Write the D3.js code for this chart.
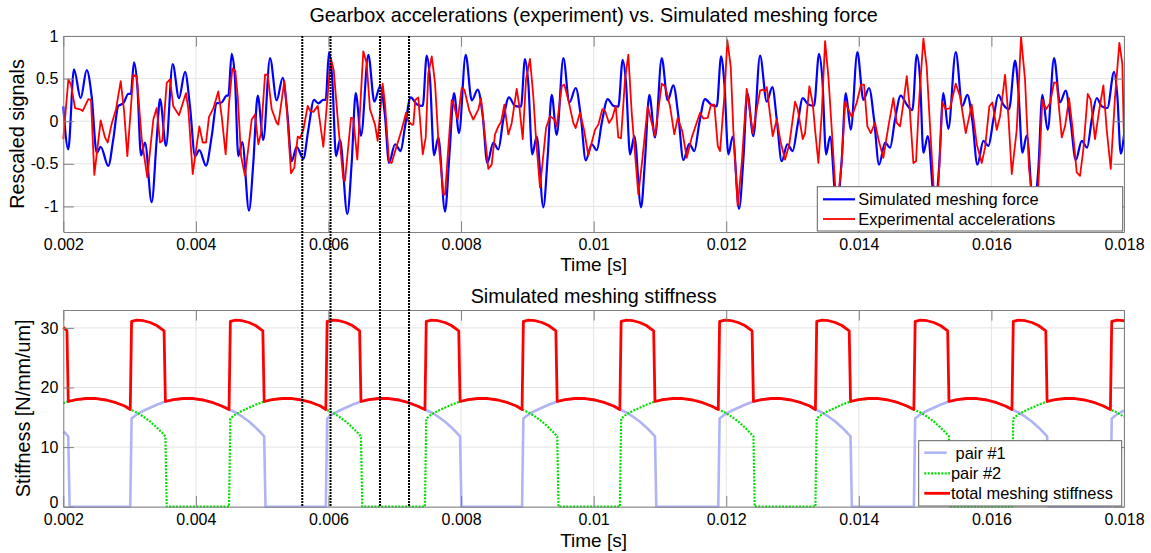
<!DOCTYPE html>
<html>
<head>
<meta charset="utf-8">
<script src="https://cdn.jsdelivr.net/npm/d3@7"></script>
<style>
  body { margin: 0; background: #fff; }
  svg { display: block; }
</style>
</head>
<body>
<svg id="fig" width="1151" height="553"></svg>
<script>
// ---------- data (time in ms) ----------
const xTickValues = [2, 4, 6, 8, 10, 12, 14, 16, 18];
const xTickLabels = ["0.002", "0.004", "0.006", "0.008", "0.01", "0.012", "0.014", "0.016", "0.018"];
const forceTickValues = [-1, -0.5, 0, 0.5, 1];
const forceTickLabels = ["-1", "-0.5", "0", "0.5", "1"];
const stiffTickValues = [0, 10, 20, 30];
const stiffTickLabels = ["0", "10", "20", "30"];

// simulated meshing force (rescaled), [time ms, value]
const simulatedForce = [
  [2.000,0.175],[2.075,-0.33],[2.161,0.61],[2.262,0.27],[2.353,0.60],[2.428,0.29],[2.504,-0.37],[2.564,-0.30],
  [2.679,-0.525],[2.754,-0.21],[2.830,0.18],[2.905,0.21],[2.981,0.32],[3.017,0.32],[3.067,0.69],[3.117,0.41],
  [3.172,-0.40],[3.232,-0.25],[3.333,-0.95],[3.409,-0.21],[3.459,0.26],[3.549,-0.29],[3.650,0.67],[3.745,0.27],
  [3.836,0.58],[3.911,0.175],[3.987,-0.41],[4.052,-0.34],[4.153,-0.52],[4.239,-0.175],[4.314,0.21],[4.389,0.22],
  [4.465,0.30],[4.489,0.30],[4.540,0.79],[4.590,0.49],[4.640,-0.41],[4.700,-0.245],[4.801,-1.05],[4.866,-0.49],
  [4.933,0.30],[5.017,-0.22],[5.118,0.74],[5.219,0.245],[5.310,0.51],[5.379,0.10],[5.445,-0.47],[5.521,-0.30],
  [5.621,-0.44],[5.696,-0.10],[5.782,0.25],[5.847,0.21],[5.922,0.25],[5.958,0.25],[6.008,0.81],[6.058,0.49],
  [6.114,-0.41],[6.174,-0.22],[6.284,-1.09],[6.350,-0.49],[6.411,0.33],[6.491,-0.17],[6.601,0.78],[6.692,0.23],
  [6.778,0.41],[6.853,0.06],[6.913,-0.49],[7.004,-0.27],[7.090,-0.35],[7.155,-0.06],[7.241,0.28],[7.331,0.20],
  [7.422,0.18],[7.482,0.77],[7.532,0.49],[7.592,-0.40],[7.657,-0.19],[7.758,-1.06],[7.823,-0.41],[7.894,0.33],
  [7.969,-0.14],[8.070,0.78],[8.161,0.245],[8.251,0.37],[8.327,0.06],[8.396,-0.49],[8.487,-0.25],[8.562,-0.33],
  [8.637,0.02],[8.723,0.28],[8.813,0.18],[8.904,0.17],[8.964,0.73],[9.014,0.45],[9.074,-0.39],[9.141,-0.18],
  [9.241,-1.01],[9.307,-0.41],[9.367,0.31],[9.443,-0.16],[9.543,0.74],[9.634,0.22],[9.730,0.39],[9.806,0.06],
  [9.881,-0.46],[9.971,-0.27],[10.047,-0.34],[10.122,-0.02],[10.212,0.26],[10.297,0.18],[10.372,0.17],[10.438,0.72],
  [10.488,0.45],[10.549,-0.39],[10.614,-0.175],[10.715,-1.01],[10.775,-0.45],[10.840,0.31],[10.926,-0.19],[11.027,0.74],
  [11.117,0.245],[11.202,0.42],[11.278,0.06],[11.353,-0.455],[11.443,-0.265],[11.519,-0.35],[11.594,-0.02],[11.680,0.26],
  [11.771,0.195],[11.857,0.175],[11.922,0.76],[11.971,0.45],[12.032,-0.39],[12.098,-0.18],[12.193,-1.03],[12.258,-0.45],
  [12.318,0.33],[12.409,-0.175],[12.510,0.77],[12.611,0.23],[12.696,0.40],[12.762,0.02],[12.837,-0.47],[12.922,-0.27],
  [13.003,-0.35],[13.073,-0.06],[13.154,0.27],[13.239,0.195],[13.324,0.18],[13.400,0.79],[13.450,0.49],[13.506,-0.39],
  [13.566,-0.18],[13.667,-1.03],[13.742,-0.45],[13.803,0.33],[13.878,-0.10],[13.978,0.81],[14.069,0.25],[14.154,0.39],
  [14.230,0.02],[14.305,-0.51],[14.396,-0.25],[14.471,-0.31],[14.546,0.02],[14.632,0.30],[14.723,0.195],[14.808,0.13],
  [14.874,0.78],[14.924,0.49],[14.974,-0.37],[15.040,-0.175],[15.150,-1.02],[15.210,-0.55],[15.275,0.33],[15.350,-0.09],
  [15.462,0.81],[15.562,0.18],[15.637,0.31],[15.713,0.00],[15.788,-0.51],[15.879,-0.23],[15.954,-0.29],[16.030,0.02],
  [16.105,0.31],[16.180,0.195],[16.266,0.14],[16.357,0.71],[16.406,0.37],[16.467,-0.37],[16.533,-0.17],[16.633,-1.02],
  [16.708,-0.56],[16.768,0.31],[16.849,-0.10],[16.945,0.74],[17.035,0.22],[17.121,0.36],[17.197,-0.02],[17.272,-0.455],
  [17.363,-0.23],[17.443,-0.31],[17.514,0.02],[17.589,0.27],[17.664,0.175],[17.749,0.155],[17.850,0.58],[17.900,0.29],
  [17.951,-0.38],[18.000,-0.16]
];

// experimental accelerations (rescaled), [time ms, value]
const experimentalAcc = [
  [2.000,-0.21],[2.076,0.49],[2.116,0.43],[2.177,0.155],[2.252,0.14],[2.293,0.12],[2.377,0.26],[2.418,0.25],
  [2.468,-0.63],[2.564,0.01],[2.629,-0.19],[2.670,-0.25],[2.730,-0.03],[2.795,0.14],[2.866,0.47],[2.916,0.13],
  [2.966,-0.41],[3.056,0.545],[3.107,0.53],[3.183,-0.21],[3.267,-0.66],[3.358,0.02],[3.409,0.155],[3.459,-0.25],
  [3.494,-0.23],[3.560,0.45],[3.610,0.49],[3.659,0.175],[3.745,0.07],[3.851,0.33],[3.886,0.14],[3.952,-0.62],
  [4.052,-0.06],[4.103,-0.25],[4.153,-0.25],[4.198,0.05],[4.263,0.15],[4.338,0.35],[4.389,0.06],[4.449,-0.39],
  [4.500,0.21],[4.550,0.62],[4.595,0.59],[4.631,0.29],[4.681,-0.41],[4.741,-0.64],[4.842,0.02],[4.892,0.08],
  [4.942,-0.27],[4.982,-0.14],[5.043,0.545],[5.083,0.545],[5.144,0.14],[5.219,-0.02],[5.243,-0.04],[5.334,0.47],
  [5.370,0.155],[5.435,-0.61],[5.485,-0.545],[5.536,-0.18],[5.571,-0.20],[5.621,-0.10],[5.687,0.18],[5.722,0.12],
  [5.772,0.11],[5.838,0.18],[5.923,-0.30],[6.034,0.74],[6.079,0.60],[6.149,-0.06],[6.224,-0.68],[6.249,-0.70],
  [6.340,0.04],[6.374,0.03],[6.435,-0.45],[6.525,0.82],[6.576,0.68],[6.626,0.14],[6.702,-0.04],[6.742,-0.23],
  [6.817,0.44],[6.852,0.21],[6.913,-0.47],[6.953,-0.49],[7.029,-0.29],[7.104,-0.10],[7.170,0.10],[7.204,0.00],
  [7.255,-0.04],[7.280,-0.04],[7.310,0.25],[7.355,0.28],[7.422,-0.39],[7.467,-0.19],[7.506,0.56],[7.558,0.76],
  [7.607,0.45],[7.657,-0.21],[7.733,-0.86],[7.758,-0.86],[7.859,0.25],[7.883,0.21],[7.950,0.02],[8.010,0.39],
  [8.050,0.37],[8.125,0.12],[8.185,0.02],[8.261,0.14],[8.301,0.27],[8.411,-0.56],[8.462,-0.51],[8.512,-0.155],
  [8.562,-0.06],[8.603,-0.01],[8.653,0.195],[8.713,-0.155],[8.764,-0.02],[8.839,0.38],[8.879,0.175],[8.930,-0.21],
  [8.980,0.49],[9.040,0.73],[9.090,0.29],[9.131,-0.21],[9.191,-0.78],[9.282,-0.08],[9.342,0.06],[9.407,0.02],
  [9.443,-0.06],[9.518,0.41],[9.558,0.43],[9.618,0.25],[9.693,-0.02],[9.729,-0.08],[9.794,0.10],[9.855,-0.10],
  [9.920,-0.40],[9.971,-0.25],[10.021,-0.10],[10.071,-0.04],[10.131,0.14],[10.172,0.12],[10.232,-0.02],[10.282,0.04],
  [10.333,0.18],[10.372,-0.19],[10.413,-0.20],[10.473,0.49],[10.523,0.78],[10.574,0.10],[10.674,-0.86],[10.734,-0.45],
  [10.816,0.175],[10.876,-0.02],[10.926,-0.17],[11.027,0.44],[11.077,0.41],[11.152,0.175],[11.217,-0.155],[11.268,0.04],
  [11.338,-0.12],[11.404,-0.43],[11.480,-0.19],[11.605,0.10],[11.655,0.03],[11.721,0.04],[11.771,0.195],[11.821,0.195],
  [11.872,-0.29],[11.907,-0.35],[11.971,0.29],[12.017,0.95],[12.068,0.64],[12.107,-0.10],[12.173,-0.99],[12.234,-0.49],
  [12.309,0.38],[12.359,0.10],[12.400,-0.14],[12.460,0.14],[12.510,0.36],[12.551,0.37],[12.585,0.35],[12.611,0.40],
  [12.651,0.14],[12.701,-0.175],[12.762,0.02],[12.822,-0.25],[12.887,-0.45],[12.952,-0.27],[13.038,0.23],[13.079,0.14],
  [13.154,-0.21],[13.189,-0.14],[13.254,0.41],[13.305,0.21],[13.340,-0.10],[13.390,-0.49],[13.441,0.10],[13.491,0.94],
  [13.541,0.52],[13.592,-0.10],[13.667,-1.05],[13.742,-0.49],[13.793,0.23],[13.842,0.14],[13.893,0.05],[13.969,0.22],
  [14.034,0.43],[14.079,0.43],[14.129,-0.06],[14.180,-0.14],[14.245,-0.02],[14.295,-0.21],[14.370,-0.43],[14.446,-0.06],
  [14.521,0.27],[14.572,-0.02],[14.622,-0.06],[14.672,0.21],[14.723,0.53],[14.762,0.21],[14.823,-0.49],[14.863,-0.47],
  [14.913,0.29],[14.974,0.97],[15.024,0.64],[15.074,-0.06],[15.150,-1.05],[15.200,-0.76],[15.260,0.22],[15.311,0.14],
  [15.376,0.155],[15.462,0.44],[15.527,0.29],[15.613,-0.14],[15.703,0.195],[15.779,-0.27],[15.854,-0.49],[15.904,-0.31],
  [15.969,0.175],[16.015,0.22],[16.081,-0.10],[16.131,0.06],[16.206,0.545],[16.256,0.06],[16.307,-0.62],[16.382,-0.10],
  [16.447,0.99],[16.507,0.49],[16.568,-0.56],[16.633,-1.05],[16.708,-0.76],[16.768,0.25],[16.824,0.14],[16.884,0.21],
  [16.945,0.455],[16.985,0.45],[17.061,-0.19],[17.111,-0.06],[17.171,0.27],[17.221,-0.06],[17.287,-0.60],[17.337,-0.64],
  [17.387,-0.33],[17.453,0.32],[17.498,0.25],[17.563,-0.21],[17.624,0.12],[17.689,0.42],[17.739,-0.10],[17.800,-0.56],
  [17.865,0.29],[17.930,0.92],[17.975,0.67],[18.000,-0.22]
];

// tooth pair #1 stiffness [time ms, N/mm/um]
const pair1 = [
  [2.000,12.6],[2.025,12.4],[2.075,11.8],[2.095,0],
  [3.010,0],[3.030,14.8],[3.110,15.5],[3.210,16.1],[3.310,16.6],[3.410,17.1],[3.540,17.65],[3.660,17.95],[3.810,18.15],[3.960,18.15],[4.110,17.9],[4.260,17.45],[4.390,16.9],[4.500,16.3],[4.600,15.8],[4.700,15.1],[4.800,14.3],[4.900,13.3],[4.980,12.4],[5.030,11.8],[5.050,0],
  [5.960,0],[5.980,14.8],[6.060,15.5],[6.160,16.1],[6.260,16.6],[6.360,17.1],[6.490,17.65],[6.610,17.95],[6.760,18.15],[6.910,18.15],[7.060,17.9],[7.210,17.45],[7.340,16.9],[7.455,16.3],[7.555,15.8],[7.655,15.1],[7.755,14.3],[7.855,13.3],[7.935,12.4],[7.985,11.8],[8.005,0],
  [8.920,0],[8.940,14.8],[9.020,15.5],[9.120,16.1],[9.220,16.6],[9.320,17.1],[9.450,17.65],[9.570,17.95],[9.720,18.15],[9.870,18.15],[10.020,17.9],[10.170,17.45],[10.300,16.9],[10.395,16.3],[10.495,15.8],[10.595,15.1],[10.695,14.3],[10.795,13.3],[10.875,12.4],[10.925,11.8],[10.945,0],
  [11.880,0],[11.900,14.8],[11.980,15.5],[12.080,16.1],[12.180,16.6],[12.280,17.1],[12.410,17.65],[12.530,17.95],[12.680,18.15],[12.830,18.15],[12.980,17.9],[13.130,17.45],[13.260,16.9],[13.345,16.3],[13.445,15.8],[13.545,15.1],[13.645,14.3],[13.745,13.3],[13.825,12.4],[13.875,11.8],[13.895,0],
  [14.830,0],[14.850,14.8],[14.930,15.5],[15.030,16.1],[15.130,16.6],[15.230,17.1],[15.360,17.65],[15.480,17.95],[15.630,18.15],[15.780,18.15],[15.930,17.9],[16.080,17.45],[16.210,16.9],[16.310,16.3],[16.410,15.8],[16.510,15.1],[16.610,14.3],[16.710,13.3],[16.790,12.4],[16.840,11.8],[16.860,0],
  [17.795,0],[17.815,14.8],[17.895,15.5],[17.995,16.1],[18.000,16.1]
];

// tooth pair #2 stiffness [time ms, N/mm/um]
const pair2 = [
  [2.000,17.35],[2.075,17.65],[2.195,17.95],[2.345,18.15],[2.495,18.15],[2.645,17.9],[2.795,17.45],[2.925,16.9],[3.010,16.3],[3.110,15.8],[3.210,15.1],[3.310,14.3],[3.410,13.3],[3.490,12.4],[3.540,11.8],[3.560,0],
  [4.500,0],[4.520,14.8],[4.600,15.5],[4.700,16.1],[4.800,16.6],[4.900,17.1],[5.030,17.65],[5.150,17.95],[5.300,18.15],[5.450,18.15],[5.600,17.9],[5.750,17.45],[5.880,16.9],[5.960,16.3],[6.060,15.8],[6.160,15.1],[6.260,14.3],[6.360,13.3],[6.440,12.4],[6.490,11.8],[6.510,0],
  [7.455,0],[7.475,14.8],[7.555,15.5],[7.655,16.1],[7.755,16.6],[7.855,17.1],[7.985,17.65],[8.105,17.95],[8.255,18.15],[8.405,18.15],[8.555,17.9],[8.705,17.45],[8.835,16.9],[8.920,16.3],[9.020,15.8],[9.120,15.1],[9.220,14.3],[9.320,13.3],[9.400,12.4],[9.450,11.8],[9.470,0],
  [10.395,0],[10.415,14.8],[10.495,15.5],[10.595,16.1],[10.695,16.6],[10.795,17.1],[10.925,17.65],[11.045,17.95],[11.195,18.15],[11.345,18.15],[11.495,17.9],[11.645,17.45],[11.775,16.9],[11.880,16.3],[11.980,15.8],[12.080,15.1],[12.180,14.3],[12.280,13.3],[12.360,12.4],[12.410,11.8],[12.430,0],
  [13.345,0],[13.365,14.8],[13.445,15.5],[13.545,16.1],[13.645,16.6],[13.745,17.1],[13.875,17.65],[13.995,17.95],[14.145,18.15],[14.295,18.15],[14.445,17.9],[14.595,17.45],[14.725,16.9],[14.830,16.3],[14.930,15.8],[15.030,15.1],[15.130,14.3],[15.230,13.3],[15.310,12.4],[15.360,11.8],[15.380,0],
  [16.310,0],[16.330,14.8],[16.410,15.5],[16.510,16.1],[16.610,16.6],[16.710,17.1],[16.840,17.65],[16.960,17.95],[17.110,18.15],[17.260,18.15],[17.410,17.9],[17.560,17.45],[17.690,16.9],[17.795,16.3],[17.895,15.8],[17.995,15.1],[18.000,15.05]
];

// total meshing stiffness [time ms, N/mm/um]
const totalStiffness = [
  [2.000,30.1],[2.055,29.5],[2.075,17.65],[2.195,17.95],[2.345,18.15],[2.495,18.15],[2.645,17.9],[2.795,17.45],[2.925,16.9],
  [3.010,16.3],[3.030,31.1],[3.110,31.3],[3.210,31.2],[3.310,30.9],[3.410,30.4],[3.520,29.5],[3.540,17.65],[3.660,17.95],[3.810,18.15],[3.960,18.15],[4.110,17.9],[4.260,17.45],[4.390,16.9],
  [4.500,16.3],[4.520,31.1],[4.600,31.3],[4.700,31.2],[4.800,30.9],[4.900,30.4],[5.010,29.5],[5.030,17.65],[5.150,17.95],[5.300,18.15],[5.450,18.15],[5.600,17.9],[5.750,17.45],[5.880,16.9],
  [5.960,16.3],[5.980,31.1],[6.060,31.3],[6.160,31.2],[6.260,30.9],[6.360,30.4],[6.470,29.5],[6.490,17.65],[6.610,17.95],[6.760,18.15],[6.910,18.15],[7.060,17.9],[7.210,17.45],[7.340,16.9],
  [7.455,16.3],[7.475,31.1],[7.555,31.3],[7.655,31.2],[7.755,30.9],[7.855,30.4],[7.965,29.5],[7.985,17.65],[8.105,17.95],[8.255,18.15],[8.405,18.15],[8.555,17.9],[8.705,17.45],[8.835,16.9],
  [8.920,16.3],[8.940,31.1],[9.020,31.3],[9.120,31.2],[9.220,30.9],[9.320,30.4],[9.430,29.5],[9.450,17.65],[9.570,17.95],[9.720,18.15],[9.870,18.15],[10.020,17.9],[10.170,17.45],[10.300,16.9],
  [10.395,16.3],[10.415,31.1],[10.495,31.3],[10.595,31.2],[10.695,30.9],[10.795,30.4],[10.905,29.5],[10.925,17.65],[11.045,17.95],[11.195,18.15],[11.345,18.15],[11.495,17.9],[11.645,17.45],[11.775,16.9],
  [11.880,16.3],[11.900,31.1],[11.980,31.3],[12.080,31.2],[12.180,30.9],[12.280,30.4],[12.390,29.5],[12.410,17.65],[12.530,17.95],[12.680,18.15],[12.830,18.15],[12.980,17.9],[13.130,17.45],[13.260,16.9],
  [13.345,16.3],[13.365,31.1],[13.445,31.3],[13.545,31.2],[13.645,30.9],[13.745,30.4],[13.855,29.5],[13.875,17.65],[13.995,17.95],[14.145,18.15],[14.295,18.15],[14.445,17.9],[14.595,17.45],[14.725,16.9],
  [14.830,16.3],[14.850,31.1],[14.930,31.3],[15.030,31.2],[15.130,30.9],[15.230,30.4],[15.340,29.5],[15.360,17.65],[15.480,17.95],[15.630,18.15],[15.780,18.15],[15.930,17.9],[16.080,17.45],[16.210,16.9],
  [16.310,16.3],[16.330,31.1],[16.410,31.3],[16.510,31.2],[16.610,30.9],[16.710,30.4],[16.820,29.5],[16.840,17.65],[16.960,17.95],[17.110,18.15],[17.260,18.15],[17.410,17.9],[17.560,17.45],[17.690,16.9],
  [17.795,16.3],[17.815,31.1],[17.895,31.3],[17.995,31.2],[18.000,31.2]
];

// instants marked with vertical dotted lines across both panels (ms)
const markerTimes = [5.605, 6.031, 6.777, 7.215];

// ---------- layout ----------
const FONT = '"Liberation Sans", Arial, Helvetica, sans-serif';
const AXIS_COLOR = "#808080";
const GRID_COLOR = "#e4e4e4";
const TICK_LEN = 10.6;
const panelTop = { top: 36, bottom: 232 };
const panelBot = { top: 310, bottom: 506.7 };

const svg = d3.select("#fig");
svg.append("rect").attr("width", 1151).attr("height", 553).attr("fill", "#fff");

const x = d3.scaleLinear().domain([2, 18]).range([63.3, 1124]);
const yForce = d3.scaleLinear().domain([-1.3, 1]).range([panelTop.bottom, panelTop.top]);
const yStiff = d3.scaleLinear().domain([0, 33]).range([panelBot.bottom, panelBot.top]);

const defs = svg.append("defs");
[["clipTop", panelTop], ["clipBot", panelBot]].forEach(([id, p]) => {
  defs.append("clipPath").attr("id", id).append("rect")
    .attr("x", x.range()[0] - 2).attr("y", p.top - 2)
    .attr("width", x.range()[1] - x.range()[0] + 4).attr("height", p.bottom - p.top + 4);
});

function drawGrid(y, tickVals, panel) {
  const g = svg.append("g");
  g.append("g").selectAll("line").data(xTickValues).join("line")
    .attr("x1", d => x(d)).attr("x2", d => x(d))
    .attr("y1", panel.top).attr("y2", panel.bottom)
    .attr("stroke", GRID_COLOR).attr("stroke-width", 1);
  g.append("g").selectAll("line").data(tickVals).join("line")
    .attr("x1", x.range()[0]).attr("x2", x.range()[1])
    .attr("y1", d => y(d)).attr("y2", d => y(d))
    .attr("stroke", GRID_COLOR).attr("stroke-width", 1);
}

function drawAxes(y, tickVals, tickLabs, panel) {
  const style = sel => {
    sel.attr("font-family", FONT).attr("font-size", 16);
    sel.select(".domain").attr("stroke", AXIS_COLOR);
    sel.selectAll(".tick line").attr("stroke", AXIS_COLOR);
    sel.selectAll(".tick text").attr("fill", "#000");
  };
  svg.append("g").attr("transform", `translate(0,${panel.bottom})`)
    .call(d3.axisBottom(x).tickValues(xTickValues)
      .tickFormat(d => xTickLabels[xTickValues.indexOf(d)])
      .tickSizeInner(-TICK_LEN).tickSizeOuter(0).tickPadding(7))
    .call(style);
  svg.append("g").attr("transform", `translate(0,${panel.top})`)
    .call(d3.axisTop(x).tickValues(xTickValues).tickFormat(() => "")
      .tickSizeInner(-TICK_LEN).tickSizeOuter(0))
    .call(style);
  const left = svg.append("g").attr("transform", `translate(${x.range()[0]},0)`)
    .call(d3.axisLeft(y).tickValues(tickVals)
      .tickFormat(d => tickLabs[tickVals.indexOf(d)])
      .tickSizeInner(-TICK_LEN).tickSizeOuter(0).tickPadding(5))
    .call(style);
  // keep the lowest y label clear of the first x label underneath it
  left.selectAll(".tick text").filter(d => y(d) > panel.bottom - 1).attr("y", -4.8);
  svg.append("g").attr("transform", `translate(${x.range()[1]},0)`)
    .call(d3.axisRight(y).tickValues(tickVals).tickFormat(() => "")
      .tickSizeInner(-TICK_LEN).tickSizeOuter(0))
    .call(style);
}

function label(txt, px, py, size, rotate) {
  const t = svg.append("text").text(txt)
    .attr("font-family", FONT).attr("font-size", size)
    .attr("text-anchor", "middle").attr("fill", "#000");
  if (rotate) t.attr("transform", `translate(${px},${py}) rotate(-90)`);
  else t.attr("x", px).attr("y", py);
  return t;
}

// ---------- top panel ----------
drawGrid(yForce, forceTickValues, panelTop);

const forceLine = d3.line().x(d => x(d[0])).y(d => yForce(d[1])).curve(d3.curveMonotoneX);
const accLine = d3.line().x(d => x(d[0])).y(d => yForce(d[1]));
const gTop = svg.append("g").attr("clip-path", "url(#clipTop)");
gTop.append("path").datum(simulatedForce).attr("d", forceLine)
  .attr("fill", "none").attr("stroke", "#0000ff").attr("stroke-width", 2.2).attr("stroke-linejoin", "round");
gTop.append("path").datum(experimentalAcc).attr("d", accLine)
  .attr("fill", "none").attr("stroke", "#ff0000").attr("stroke-width", 1.8).attr("stroke-linejoin", "round");

drawAxes(yForce, forceTickValues, forceTickLabels, panelTop);

label("Gearbox accelerations (experiment) vs. Simulated meshing force", 593.6, 22, 19.8);
label("Time [s]", 593.6, 271, 19);
label("Rescaled signals", 24, 134, 19.8, true);

// legend (top)
const legTop = svg.append("g").attr("font-family", FONT).attr("font-size", 16.4);
legTop.append("rect").attr("x", 817.3).attr("y", 186.7).attr("width", 305.4).attr("height", 44.3)
  .attr("fill", "#fff").attr("stroke", "#606060").attr("stroke-width", 1);
[["Simulated meshing force", "#0000ff", 2.2, 199.3], ["Experimental accelerations", "#ff0000", 1.8, 219]]
  .forEach(([name, color, w, ly]) => {
    legTop.append("line").attr("x1", 823).attr("x2", 855).attr("y1", ly).attr("y2", ly)
      .attr("stroke", color).attr("stroke-width", w);
    legTop.append("text").attr("x", 858.3).attr("y", ly + 5.8).text(name).attr("fill", "#000");
  });

// ---------- bottom panel ----------
drawGrid(yStiff, stiffTickValues, panelBot);

const stiffLine = d3.line().x(d => x(d[0])).y(d => yStiff(d[1]));
const gBot = svg.append("g").attr("clip-path", "url(#clipBot)");
const styles = {
  p1: { color: "#b0b4f4", width: 2.6, dash: null },
  p2: { color: "#00e000", width: 2.2, dash: "2,1.4" },
  tot: { color: "#ff0000", width: 2.8, dash: null }
};
gBot.append("path").datum(pair1).attr("d", stiffLine)
  .attr("fill", "none").attr("stroke", styles.p1.color).attr("stroke-width", styles.p1.width).attr("stroke-linejoin", "round");
gBot.append("path").datum(pair2).attr("d", stiffLine)
  .attr("fill", "none").attr("stroke", styles.p2.color).attr("stroke-width", styles.p2.width)
  .attr("stroke-dasharray", styles.p2.dash);
gBot.append("path").datum(totalStiffness).attr("d", stiffLine)
  .attr("fill", "none").attr("stroke", styles.tot.color).attr("stroke-width", styles.tot.width).attr("stroke-linejoin", "round");

drawAxes(yStiff, stiffTickValues, stiffTickLabels, panelBot);

label("Simulated meshing stiffness", 593.6, 303, 19.8);
label("Time [s]", 593.6, 546.5, 19);
label("Stiffness [N/mm/um]", 30, 408.3, 19.8, true);

// legend (bottom)
const legBot = svg.append("g").attr("font-family", FONT).attr("font-size", 16.4);
legBot.append("rect").attr("x", 918.7).attr("y", 440.7).attr("width", 203).attr("height", 65.3)
  .attr("fill", "#fff").attr("stroke", "#606060").attr("stroke-width", 1);
[[" pair #1", styles.p1, 452.7, 946.7], ["pair #2", styles.p2, 473.3, 950], ["total meshing stiffness", styles.tot, 493.3, 950]]
  .forEach(([name, s, ly, x2]) => {
    legBot.append("line").attr("x1", 924.3).attr("x2", x2).attr("y1", ly).attr("y2", ly)
      .attr("stroke", s.color).attr("stroke-width", s.width).attr("stroke-dasharray", s.dash);
    legBot.append("text").attr("x", 951).attr("y", ly + 5.8).attr("xml:space", "preserve")
      .style("white-space", "pre").text(name).attr("fill", "#000");
  });

// ---------- vertical markers spanning both panels ----------
svg.append("g").selectAll("line").data(markerTimes).join("line")
  .attr("x1", d => x(d)).attr("x2", d => x(d))
  .attr("y1", panelTop.top).attr("y2", panelBot.bottom)
  .attr("stroke", "#000").attr("stroke-width", 2).attr("stroke-dasharray", "2,1");
</script>
</body>
</html>
